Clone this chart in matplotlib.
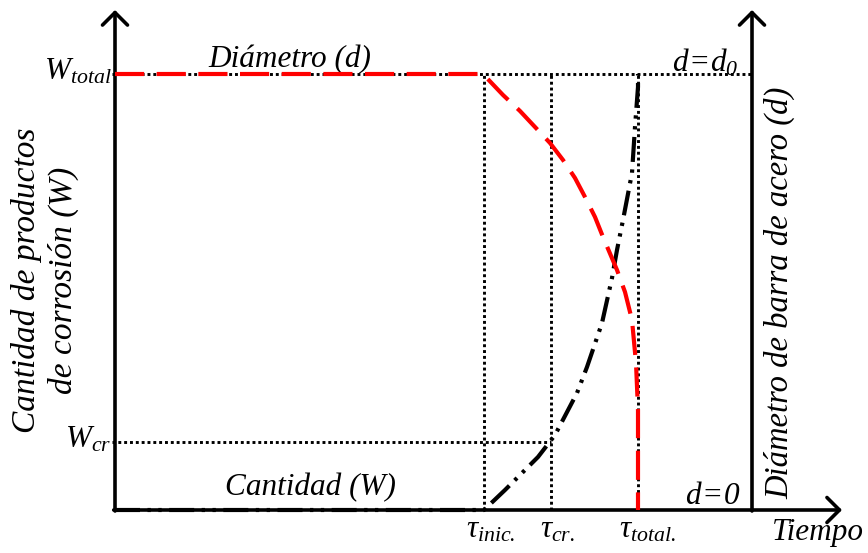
import matplotlib
matplotlib.use("Agg")
import matplotlib.pyplot as plt

plt.rcParams['font.family'] = ['Liberation Serif', 'DejaVu Serif']
plt.rcParams['font.style'] = 'italic'
plt.rcParams['mathtext.fontset'] = 'custom'
plt.rcParams['mathtext.it'] = 'Liberation Serif:italic'
plt.rcParams['mathtext.rm'] = 'Liberation Serif:italic'
plt.rcParams['mathtext.default'] = 'it'

# ---- data (arbitrary time / quantity units) ----
t_marks = [369, 436, 523]          # tau_inic, tau_cr, tau_total
t_labels = [r'$\tau_{inic.}$', r'$\tau_{cr.}$', r'$\tau_{total.}$']
t_axis_end = 637                   # right (diameter) axis position
W_total = 436
W_cr = 68

# diameter curve d(t)
d_t = [0, 368, 388, 405, 420, 435, 448, 460, 470, 480, 488, 502, 510, 517, 521, 523, 523]
d_v = [436, 436, 415, 399, 383, 367, 350, 332, 313, 293, 273, 240, 218, 190, 147, 100, 0]

# corrosion products curve W(t)
w_t = [0, 369, 390, 423, 440, 462, 472, 487, 497, 502, 508, 517, 520, 523, 523]
w_v = [0, 0, 20, 53, 75, 117, 143, 187, 232, 260, 290, 337, 383, 423, 436]

fig = plt.figure(figsize=(8.68, 5.53), dpi=100)
ax = fig.add_axes([0, 0, 1, 1])
ax.set_xlim(-115, 753)
ax.set_ylim(-43, 510)
ax.axis('off')

dot = dict(color='black', lw=2.1, linestyle=(0, (1, 1)), dash_capstyle='butt')
# reference dotted lines
ax.plot([-3, t_axis_end], [W_total, W_total], **dot)
ax.plot([-3, t_marks[1]], [W_cr, W_cr], **dot)
for t in t_marks:
    ax.plot([t, t], [0, W_total], **dot)

# axes with arrows
arr = dict(arrowstyle='->,head_length=0.9,head_width=0.9', lw=2.6, color='black',
           shrinkA=0, shrinkB=0)
ax.annotate('', xy=(0, 500), xytext=(0, -1), arrowprops=arr)
ax.annotate('', xy=(t_axis_end, 500), xytext=(t_axis_end, -1), arrowprops=arr)
ax.annotate('', xy=(727, 0), xytext=(-1.3, 0), arrowprops=arr)

# curves
ax.plot(w_t, w_v, color='black', lw=3,
        linestyle=(0, (6, 1.8, 0.8, 1.8, 0.8, 1.8)), dash_capstyle='butt', zorder=4)
ax.plot(d_t, d_v, color='red', lw=3, linestyle=(0, (7, 3)),
        dash_capstyle='butt', zorder=5)

fs = 22.5
fl = 23.5
ax.text(175, 450, 'Diámetro (d)', fontsize=fs, ha='center', va='center')
ax.text(195, 22, 'Cantidad (W)', fontsize=fs, ha='center', va='center')
ax.text(623, 438, r'$d\!=\!d_0$', fontsize=fs, ha='right', va='baseline')
ax.text(625, 6, r'$d\!=\!0$', fontsize=fs, ha='right', va='baseline')
ax.text(-3, 430, r'$W_{total}$', fontsize=fs, ha='right', va='baseline')
ax.text(-4, 62, r'$W_{cr}$', fontsize=fs, ha='right', va='baseline')

offs = [7, 6, 9]
for t, lab, o in zip(t_marks, t_labels, offs):
    ax.text(t + o, -27, lab, fontsize=fs, ha='center', va='baseline')
ax.text(703, -30, 'Tiempo', fontsize=fs, ha='center', va='baseline')

ax.text(-70, 230, 'Cantidad de productos\nde corrosión (W)', fontsize=24,
        rotation=90, ha='center', va='center', multialignment='center',
        linespacing=1.2)
ax.text(665, 217, 'Diámetro de barra de acero (d)', fontsize=fl,
        rotation=90, ha='center', va='center')

fig.savefig('out.png', dpi=100)
